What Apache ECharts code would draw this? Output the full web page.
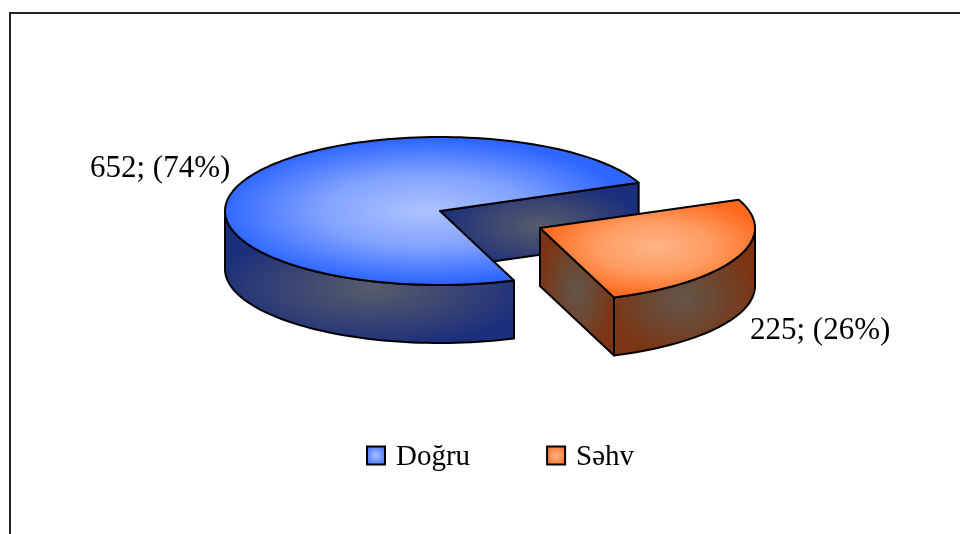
<!DOCTYPE html>
<html>
<head>
<meta charset="utf-8">
<style>
    html, body { margin: 0; padding: 0; background: #fff; }
    #chart { width: 960px; height: 534px; }
</style>
<script src="https://cdn.jsdelivr.net/npm/echarts@6/dist/echarts.min.js"></script>
</head>
<body>
<div id="chart"></div>
<script>
'use strict';

var categories = ['Doğru', 'Səhv'];
var answerCounts = [652, 225];

var total = answerCounts[0] + answerCounts[1];
var sweepStart = 22.5; // the small slice starts here, degrees counter clockwise from east
var fontName = '"Liberation Serif", "Times New Roman", serif';

// where each slice sits: exploded centres, ellipse radii and rim depth
var radiusX = 215;
var radiusY = 74;
var depth = 58;
var centers = [[440, 211], [540, 228]];
var labelPos = [[90, 169], [750, 331]];

var palette = [
    { top: ['#adc3ff', '#82a2ff', '#2e66ff'], side: ['#575c6b', '#3c4672', '#1b2f7c'], legend: ['#a9bfff', '#3a6cff'] },
    { top: ['#ffb488', '#ff9c62', '#ff6a1e'], side: ['#62554a', '#6e4630', '#7c3512'], legend: ['#ffb488', '#ff6a1e'] }
];
// radial shading, [cx, cy, rx, ry]
var topShade = [[425, 211, 205, 72], [655, 247, 115, 50]];
var rimShade = [[372, 288, 160, 60], [682, 298, 76, 60]];
var faceShade = [[540, 226, 100, 44], [577, 291, 38, 66]];

function ellipsePoint(cx, cy, deg) {
    var a = deg * Math.PI / 180;
    return [cx + radiusX * Math.cos(a), cy - radiusY * Math.sin(a)];
}

function arcPoints(cx, cy, fromDeg, toDeg) {
    var pts = [];
    var n = Math.ceil(Math.abs(toDeg - fromDeg) / 2);
    for (var i = 0; i <= n; i++) {
        pts.push(ellipsePoint(cx, cy, fromDeg + (toDeg - fromDeg) * i / n));
    }
    return pts;
}

// polygon filled with an elliptical gradient: the points are stretched into a
// circle locally and squashed back, so the gradient comes out as an ellipse
function shaded(points, shade, colors) {
    var k = shade[2] / shade[3];
    return {
        type: 'polygon',
        x: shade[0],
        y: shade[1],
        scaleY: 1 / k,
        shape: {
            points: points.map(function (p) {
                return [p[0] - shade[0], (p[1] - shade[1]) * k];
            })
        },
        style: {
            fill: new echarts.graphic.RadialGradient(0, 0, shade[2], [
                { offset: 0, color: colors[0] },
                { offset: 0.5, color: colors[1] },
                { offset: 1, color: colors[2] }
            ], true),
            stroke: null
        }
    };
}

function outline(points) {
    return {
        type: 'polygon',
        shape: { points: points },
        style: { fill: 'none', stroke: '#000', lineWidth: 2, lineJoin: 'round' }
    };
}

function sliceAngles(index) {
    var small = answerCounts[1] / total * 360;
    if (index === 1) {
        return [sweepStart - small, sweepStart];
    }
    return [sweepStart, sweepStart + 360 - small];
}

function renderSlice(index, api) {
    var value = api.value(0);
    var c = centers[index];
    var angles = sliceAngles(index);
    var pal = palette[index];
    var children = [];

    // the cut face that looks at the viewer, and the part of the rim in front
    var rimFrom = index === 0 ? 180 : angles[0];
    var rimTo = index === 0 ? angles[1] : 0;
    var edge = ellipsePoint(c[0], c[1], angles[0]);
    var face = [[c[0], c[1]], edge, [edge[0], edge[1] + depth], [c[0], c[1] + depth]];

    var upper = arcPoints(c[0], c[1], rimFrom, rimTo);
    var lower = upper.slice().reverse().map(function (p) {
        return [p[0], p[1] + depth];
    });
    var rim = upper.concat(lower);
    var top = [[c[0], c[1]]].concat(arcPoints(c[0], c[1], angles[0], angles[1]));

    children.push(shaded(face, faceShade[index], pal.side), outline(face));
    children.push(shaded(rim, rimShade[index], pal.side), outline(rim));
    children.push(shaded(top, topShade[index], pal.top), outline(top));
    children.push({
        type: 'text',
        x: labelPos[index][0],
        y: labelPos[index][1],
        style: {
            text: value + '; (' + Math.round(value / total * 100) + '%)',
            font: '31px ' + fontName,
            fill: '#000',
            textVerticalAlign: 'middle'
        }
    });
    return { type: 'group', children: children };
}

var legendGradient = function (colors) {
    return new echarts.graphic.RadialGradient(0.5, 0.5, 0.6, [
        { offset: 0, color: colors[0] },
        { offset: 1, color: colors[1] }
    ]);
};

var chart = echarts.init(document.getElementById('chart'));
var option = {
    animation: false,
    backgroundColor: '#fff',
    legend: {
        left: 366,
        top: 443,
        padding: 0,
        itemWidth: 18,
        itemHeight: 18,
        itemGap: 76,
        selectedMode: false,
        formatter: '{t|{name}}',
        textStyle: {
            rich: {
                t: {
                    fontFamily: fontName,
                    fontSize: 29,
                    color: '#000',
                    padding: [4, 0, 0, 6]
                }
            }
        },
        data: categories.map(function (name, i) {
            return {
                name: name,
                icon: 'rect',
                itemStyle: {
                    color: legendGradient(palette[i].legend),
                    borderColor: '#000',
                    borderWidth: 2
                }
            };
        })
    },
    graphic: [{
        type: 'polyline',
        silent: true,
        shape: { points: [[10, 534], [10, 13], [960, 13]] },
        style: { fill: 'none', stroke: '#222', lineWidth: 2 }
    }],
    series: categories.map(function (name, i) {
        return {
            name: name,
            type: 'custom',
            coordinateSystem: 'none',
            silent: true,
            z: i + 2,
            data: [[answerCounts[i]]],
            renderItem: function (params, api) {
                return renderSlice(i, api);
            }
        };
    })
};
chart.setOption(option);
</script>
</body>
</html>
